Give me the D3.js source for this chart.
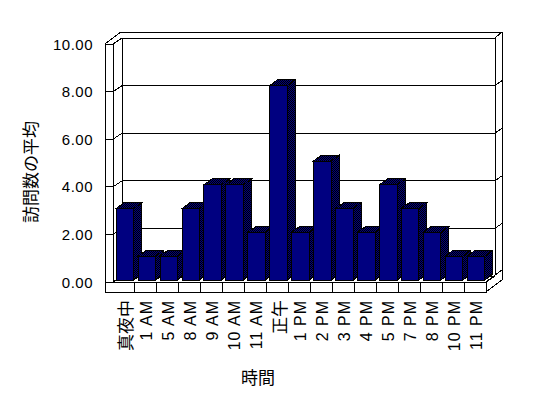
<!DOCTYPE html>
<html>
<head>
<meta charset="utf-8">
<script src="https://cdn.jsdelivr.net/npm/d3@7"></script>
<style>
  body { margin: 0; background: #fff; }
  text { font-family: 'Liberation Sans', Arial, sans-serif; fill: #000; }
  .cjk { font-family: 'Noto Sans CJK JP', sans-serif; }
</style>
</head>
<body>
<svg id="container"></svg>
<script>
// chart data
const hours = ['真夜中', '1 AM', '5 AM', '8 AM', '9 AM', '10 AM', '11 AM', '正午', '1 PM',
  '2 PM', '3 PM', '4 PM', '5 PM', '7 PM', '8 PM', '10 PM', '11 PM']
const visits = [3, 1, 1, 3, 4, 4, 2, 8.17, 2, 5, 3, 2, 4, 3, 2, 1, 1]
const yTicks = [0, 2, 4, 6, 8, 10]
const yTitle = '訪問数の平均'
const xTitle = '時間'

const width = 548
const height = 398

const svg = d3.select('#container')
  .attr('width', width)
  .attr('height', height)

// front plane of the 3d box
const left = 113
const right = 486
const floorY = 282
const topY = 44
const wallW = 8 // thickness of left wall front face
const floorH = 10 // thickness of floor front face
const inner = { dx: 9, dy: -6 } // front plane -> back wall inner face
const outer = { dx: 16, dy: -12 } // front outer -> back outer

const x = d3.scaleBand().domain(hours).range([left, right])
  .paddingInner(0.2).paddingOuter(0.1)
const xCat = d3.scaleBand().domain(hours).range([left, right])
const y = d3.scaleLinear().domain([0, 10]).range([floorY, topY])
// bars stand a bit behind the front plane
const yBar = d3.scaleLinear().domain([0, 10]).range([floorY - 2, topY - 2])
const bar = { ox: 1, dx: 8, dy: -6 }

const defs = svg.append('defs')
const pat = defs.append('pattern')
  .attr('id', 'dots')
  .attr('width', 2)
  .attr('height', 2)
  .attr('patternUnits', 'userSpaceOnUse')
pat.append('rect').attr('width', 2).attr('height', 2).attr('fill', '#000080')
pat.append('rect').attr('width', 1).attr('height', 1).attr('fill', '#000')
pat.append('rect').attr('x', 1).attr('y', 1).attr('width', 1).attr('height', 1).attr('fill', '#000')

const g = svg.append('g')
  .attr('stroke', '#000')
  .attr('stroke-width', 1)
  .attr('fill', 'none')
  .attr('shape-rendering', 'crispEdges')

const line = d3.line()
const seg = pts => g.append('path').attr('d', line(pts))

const bx0 = left + inner.dx
const bx1 = right + inner.dx
const by0 = topY + inner.dy
const byF = floorY + inner.dy
const ox0 = left - wallW

// walls
g.append('rect')
  .attr('x', ox0).attr('y', topY)
  .attr('width', wallW).attr('height', floorY - topY)
  .attr('fill', '#fff')
seg([[ox0, topY], [ox0 + outer.dx, topY + outer.dy], [right + outer.dx, topY + outer.dy],
  [right + outer.dx, floorY + floorH + outer.dy]])
seg([[left, topY], [bx0, by0], [bx1, by0], [right + outer.dx, topY + outer.dy]])
seg([[bx0, by0], [bx0, byF], [bx1, byF], [bx1, by0]])
seg([[left, floorY], [bx0, byF]])

// gridlines along left wall and back wall
yTicks.filter(d => d > 0 && d < 10).forEach(d => {
  const yy = y(d)
  seg([[ox0, yy], [left, yy], [bx0, yy + inner.dy], [bx1, yy + inner.dy],
    [right + outer.dx, yy + outer.dy + 1]])
})

// bars
hours.forEach((h, i) => {
  const v = visits[i]
  const x0 = x(h) + bar.ox
  const x1 = x0 + x.bandwidth()
  const y0 = yBar(v)
  const y1 = yBar(0)
  const bg = g.append('g')
  bg.append('path')
    .attr('d', line([[x1, y0], [x1 + bar.dx, y0 + bar.dy], [x1 + bar.dx, y1 + bar.dy], [x1, y1]]) + 'Z')
    .attr('fill', 'url(#dots)')
  bg.append('path')
    .attr('d', line([[x0, y0], [x0 + bar.dx, y0 + bar.dy], [x1 + bar.dx, y0 + bar.dy], [x1, y0]]) + 'Z')
    .attr('fill', 'url(#dots)')
  bg.append('rect')
    .attr('x', x0).attr('y', y0)
    .attr('width', x1 - x0).attr('height', y1 - y0)
    .attr('fill', '#000080')
})

// floor front face with category dividers
g.append('rect')
  .attr('x', ox0).attr('y', floorY)
  .attr('width', right - ox0).attr('height', floorH)
  .attr('fill', '#fff')
g.append('path')
  .attr('d', line([[right, floorY], [right + outer.dx, floorY + outer.dy],
    [right + outer.dx, floorY + floorH + outer.dy], [right, floorY + floorH]]) + 'Z')
  .attr('fill', '#fff')
seg([[right, floorY], [bx1, byF]])
hours.slice(1).forEach(h => {
  seg([[xCat(h), floorY], [xCat(h), floorY + floorH]])
})

// y labels
svg.append('g')
  .selectAll('text')
  .data(yTicks)
  .join('text')
  .attr('x', 93)
  .attr('y', d => y(d))
  .attr('text-anchor', 'end')
  .attr('dominant-baseline', 'central')
  .style('font-size', '15px')
  .style('letter-spacing', '0.5px')
  .text(d => d.toFixed(2))

// x labels, rotated
svg.append('g')
  .selectAll('text')
  .data(hours)
  .join('text')
  .attr('transform', d => `translate(${xCat(d) + xCat.bandwidth() / 2 + 1},${floorY + floorH + 8}) rotate(-90)`)
  .attr('text-anchor', 'end')
  .attr('dominant-baseline', 'central')
  .attr('class', d => /[AP]M/.test(d) ? null : 'cjk')
  .style('font-size', d => /[AP]M/.test(d) ? '16px' : '17px')
  .style('letter-spacing', d => /[AP]M/.test(d) ? '1px' : '0px')
  .text(d => d)

// axis titles
svg.append('text')
  .attr('class', 'cjk')
  .attr('transform', 'translate(29,172) rotate(-90)')
  .attr('text-anchor', 'middle')
  .attr('dominant-baseline', 'central')
  .style('font-size', '17px')
  .text(yTitle)

svg.append('text')
  .attr('class', 'cjk')
  .attr('x', 258)
  .attr('y', 376)
  .attr('text-anchor', 'middle')
  .attr('dominant-baseline', 'central')
  .style('font-size', '17px')
  .text(xTitle)
</script>
</body>
</html>
